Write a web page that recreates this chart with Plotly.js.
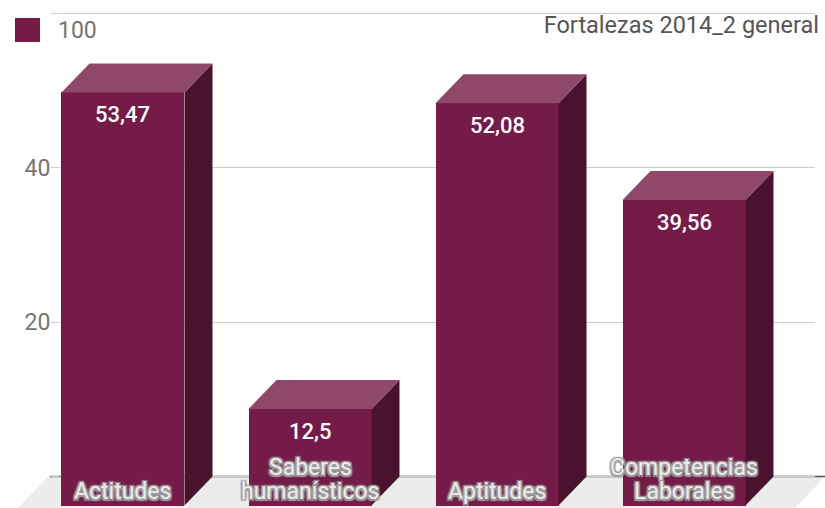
<!DOCTYPE html>
<html><head><meta charset="utf-8">
<script src="https://cdn.plot.ly/plotly-3.0.1.min.js"></script>
<style>html,body{margin:0;padding:0;background:#fff}</style>
</head><body><div id="chart" style="width:825px;height:508px"></div>
<script>
// ---- data ----
const categories = ['Actitudes', 'Saberes\nhumanísticos', 'Aptitudes', 'Competencias\nLaborales'];
const values = [53.47, 12.5, 52.08, 39.56];
const valueLabels = ['53,47', '12,5', '52,08', '39,56'];
const seriesName = '100';
const chartTitle = 'Fortalezas 2014_2 general';
const yTickVals = [0, 20, 40, 60];
const yTickText = ['', '20', '40', ''];

// ---- geometry / style ----
const W = 825, H = 508, L = 60, R = 10, T = 10, B = 0;
const plotW = W - L - R, plotH = H - T - B;
const xRange = [-0.4866, 3.5508];
const yRange = [-4.078, 60.388];
const pxX = plotW / (xRange[1] - xRange[0]);
const pxY = plotH / (yRange[1] - yRange[0]);
const dxU = 28 / pxX, dyU = 29 / pxY, hw = 61.5 / pxX;
const cFront = '#741b47', cTop = '#904868', cSide = '#4b122e';
const FONT = 'Roboto, "Open Sans", sans-serif';
const px2paperX = p => (p - L) / plotW;
const px2paperY = p => (H - B - p) / plotH;
const halo = '1.5px 1.5px 1px #a0a0a0, -1.5px -1.5px 1px #a0a0a0, 1.5px -1.5px 1px #a0a0a0, -1.5px 1.5px 1px #a0a0a0, 0 0 3px #a0a0a0';

const xs = values.map((v, i) => i);

// top faces & side faces as polygons from data
const topX = [], topY = [], sideX = [], sideY = [];
values.forEach((v, i) => {
  topX.push(i - hw - dxU, i - hw, i + hw, i + hw - dxU, null);
  topY.push(v - dyU, v, v, v - dyU, null);
  sideX.push(i + hw - dxU, i + hw, i + hw, i + hw - dxU, null);
  sideY.push(v - dyU, v, 0, -dyU, null);
});

const traces = [
  { type: 'scatter', x: sideX, y: sideY, mode: 'lines', fill: 'toself', fillcolor: cSide,
    line: { width: 0, color: cSide }, hoverinfo: 'skip', showlegend: false },
  { type: 'scatter', x: topX, y: topY, mode: 'lines', fill: 'toself', fillcolor: cTop,
    line: { width: 0, color: cTop }, hoverinfo: 'skip', showlegend: false },
  { type: 'bar', name: seriesName, x: xs.map(i => i - dxU), y: values, base: -dyU,
    width: 2 * hw, marker: { color: cFront, line: { width: 0 } }, showlegend: false }
];

const annotations = [];
values.forEach((v, i) => {
  annotations.push({ x: i - dxU, y: v - dyU, xref: 'x', yref: 'y', text: valueLabels[i],
    showarrow: false, yanchor: 'top', yshift: -8,
    font: { family: FONT, size: 22, color: '#ffffff', weight: 500 } });
  const lines = categories[i].split('\n');
  lines.forEach((ln, k) => {
    const fromBottom = lines.length - 1 - k;
    annotations.push({ x: i - dxU, y: -dyU, xref: 'x', yref: 'y', text: ln,
      showarrow: false, yanchor: 'middle', yshift: 14.5 + 24 * fromBottom,
      font: { family: FONT, size: 23, color: '#ececec', shadow: halo } });
  });
});
// legend text
annotations.push({ xref: 'paper', yref: 'paper', x: px2paperX(56), y: px2paperY(30),
  xanchor: 'left', yanchor: 'middle', text: seriesName, showarrow: false,
  font: { family: FONT, size: 23, color: '#757575' } });

const shapes = [
  // floor
  { type: 'path', xref: 'paper', yref: 'paper', layer: 'below', line: { width: 0 },
    fillcolor: '#ececec',
    path: `M${px2paperX(48)},${px2paperY(476.5)} L${px2paperX(825)},${px2paperY(476.5)} L${px2paperX(795)},${px2paperY(508)} L${px2paperX(18)},${px2paperY(508)} Z` },
  // baseline
  { type: 'line', xref: 'paper', yref: 'y', layer: 'between', x0: px2paperX(50), x1: px2paperX(825),
    y0: 0, y1: 0, line: { color: '#555555', width: 1.5 } },
  // legend swatch
  { type: 'rect', xref: 'paper', yref: 'paper', x0: px2paperX(15), x1: px2paperX(40),
    y0: px2paperY(42), y1: px2paperY(18), fillcolor: cFront, line: { width: 0 } }
];

const layout = {
  width: W, height: H,
  margin: { l: L, r: R, t: T, b: B, pad: 0 },
  paper_bgcolor: '#ffffff', plot_bgcolor: 'rgba(0,0,0,0)',
  showlegend: false,
  title: { text: chartTitle, xref: 'container', yref: 'container', x: 819 / W, xanchor: 'right',
    y: 1 - 25 / H, yanchor: 'middle', font: { family: FONT, size: 23.5, color: '#555555' } },
  xaxis: { range: xRange, showgrid: false, zeroline: false, showticklabels: false,
    ticks: '', fixedrange: true },
  yaxis: { range: yRange, tickvals: yTickVals, ticktext: yTickText, showgrid: true,
    gridcolor: '#cccccc', gridwidth: 1, zeroline: false, ticks: 'outside', ticklen: 8,
    tickcolor: '#cccccc', ticklabelstandoff: -4,
    tickfont: { family: FONT, size: 23, color: '#757575' }, fixedrange: true },
  shapes, annotations,
  bargap: 0
};

Plotly.newPlot('chart', traces, layout, { displayModeBar: false, staticPlot: true });
</script></body></html>
